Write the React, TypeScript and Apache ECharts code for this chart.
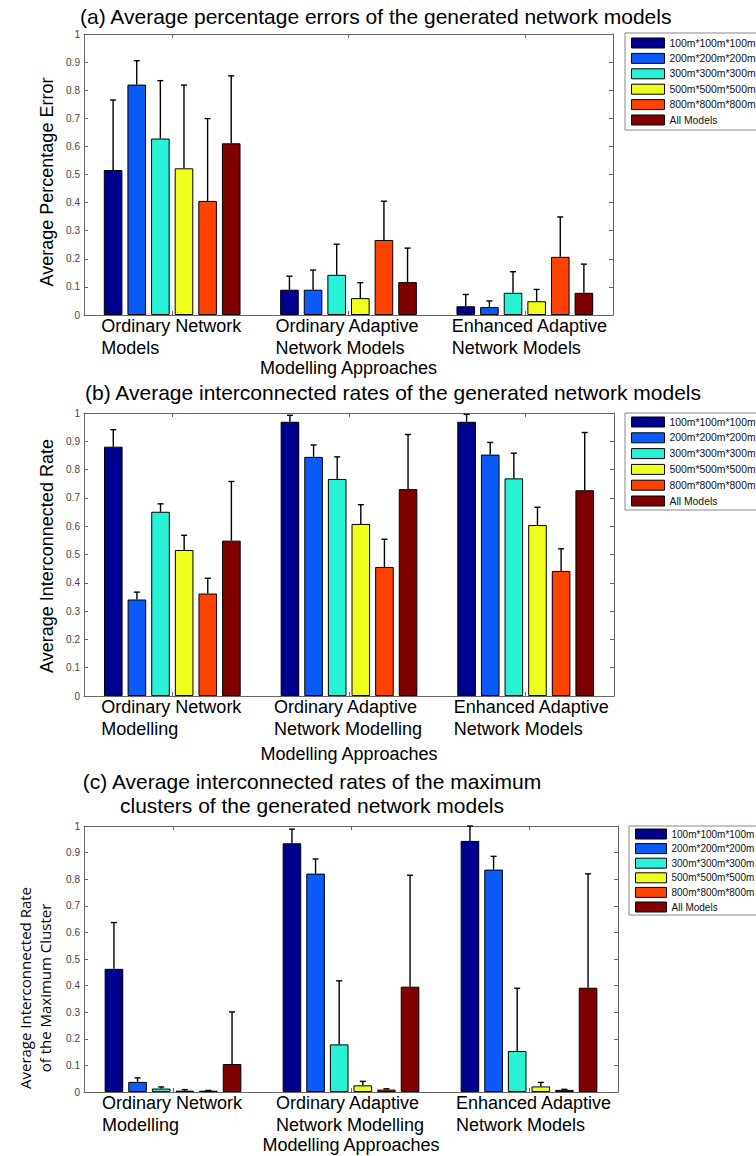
import React, { useEffect, useRef } from "react";
import * as echarts from "echarts";

// Group labels along the bottom axis of each panel
const categoriesA = ["Ordinary Network\nModels", "Ordinary Adaptive\nNetwork Models", "Enhanced Adaptive\nNetwork Models"];
const categoriesB = ["Ordinary Network\nModelling", "Ordinary Adaptive\nNetwork Modelling", "Enhanced Adaptive\nNetwork Models"];
const categoriesC = ["Ordinary Network\nModelling", "Ordinary Adaptive\nNetwork Modelling", "Enhanced Adaptive\nNetwork Models"];

// Model sizes (one bar series each)
const sizeNames = ["100m*100m*100m", "200m*200m*200m", "300m*300m*300m", "500m*500m*500m", "800m*800m*800m", "All Models"];
const sizeColors = ["#00008f", "#0a5af7", "#28f2d6", "#eeff1e", "#ff4200", "#800000"];

const yTicks = [0, 0.1, 0.2, 0.3, 0.4, 0.5, 0.6, 0.7, 0.8, 0.9, 1];

// (a) average percentage error: mean and mean + std per size, per approach
const errorMean = [
  [0.516, 0.09, 0.031],
  [0.82, 0.09, 0.028],
  [0.628, 0.143, 0.079],
  [0.522, 0.06, 0.049],
  [0.406, 0.267, 0.207],
  [0.611, 0.117, 0.079],
];
const errorUpper = [
  [0.765, 0.138, 0.073],
  [0.905, 0.16, 0.05],
  [0.834, 0.252, 0.154],
  [0.818, 0.115, 0.091],
  [0.699, 0.405, 0.349],
  [0.851, 0.238, 0.181],
];

// (b) average interconnected rate
const rateMean = [
  [0.881, 0.969, 0.969],
  [0.341, 0.845, 0.853],
  [0.651, 0.767, 0.769],
  [0.516, 0.608, 0.604],
  [0.362, 0.456, 0.442],
  [0.549, 0.731, 0.727],
];
const rateUpper = [
  [0.941, 0.992, 0.995],
  [0.367, 0.887, 0.896],
  [0.679, 0.845, 0.858],
  [0.568, 0.676, 0.667],
  [0.416, 0.554, 0.52],
  [0.758, 0.924, 0.931],
];

// (c) average interconnected rate of the maximum cluster
const clusterMean = [
  [0.463, 0.935, 0.944],
  [0.038, 0.821, 0.836],
  [0.013, 0.179, 0.154],
  [0.005, 0.025, 0.021],
  [0.005, 0.009, 0.008],
  [0.105, 0.396, 0.392],
];
const clusterUpper = [
  [0.637, 0.988, 1.0],
  [0.053, 0.876, 0.886],
  [0.019, 0.418, 0.39],
  [0.009, 0.04, 0.036],
  [0.006, 0.012, 0.01],
  [0.301, 0.815, 0.82],
];

const FONT = '"Liberation Sans", Arial, Helvetica, sans-serif';
const BAR_W = 18.6;
const BAR_GAP = 0.27;
const PITCH = BAR_W * (1 + BAR_GAP);
const AXIS_COLOR = "#666";

function measure(text: string, font: string): number {
  const ctx = document.createElement("canvas").getContext("2d");
  if (!ctx) return text.length * 9;
  ctx.font = font;
  return ctx.measureText(text).width;
}

type PanelSpec = {
  grid: { left: number; top: number; width: number; height: number };
  categories: string[];
  mean: number[][];
  upper: number[][];
  nameGap: number;
  legend: { left: number; top: number; itemWidth: number; itemGap: number; padTop: number; fontSize: number };
  lastShift: number;
};

function buildPanel(p: number, spec: PanelSpec) {
  const rich: Record<string, any> = {};
  spec.categories.forEach((c, i) => {
    const w = Math.max(...c.split("\n").map((l) => measure(l, `18px ${FONT}`)));
    rich["c" + i] = {
      width: Math.ceil(w) + 1,
      align: "left",
      fontFamily: FONT,
      fontSize: 18,
      lineHeight: 22,
      color: "#000",
      padding: i === spec.categories.length - 1 ? [0, 0, 0, spec.lastShift] : 0,
    };
  });

  const tick = { show: true, inside: true, length: 4, lineStyle: { color: AXIS_COLOR, width: 1 } };
  const line = { show: true, onZero: false, lineStyle: { color: AXIS_COLOR, width: 1 } };

  const xAxes = [
    {
      type: "category",
      gridIndex: p,
      position: "bottom",
      data: spec.categories,
      axisLine: line,
      axisTick: { ...tick, alignWithLabel: true },
      axisLabel: {
        margin: 0,
        interval: 0,
        formatter: (v: string, i: number) =>
          v
            .split("\n")
            .map((l) => `{c${i}|${l}}`)
            .join("\n"),
        rich,
      },
      name: "Modelling Approaches",
      nameLocation: "middle",
      nameGap: spec.nameGap,
      nameTextStyle: { fontFamily: FONT, fontSize: 18, color: "#000", lineHeight: 20 },
    },
    {
      type: "category",
      gridIndex: p,
      position: "top",
      data: spec.categories,
      axisLine: line,
      axisTick: { ...tick, alignWithLabel: true },
      axisLabel: { show: false },
    },
  ];

  const yAxes = [
    {
      type: "value",
      gridIndex: p,
      position: "left",
      min: 0,
      max: 1,
      interval: 0.1,
      axisLine: line,
      axisTick: tick,
      splitLine: { show: false },
      axisLabel: {
        margin: 4,
        fontFamily: FONT,
        fontSize: 10,
        color: "#444",
        formatter: (v: number) => {
          const t = yTicks.find((k) => Math.abs(k - v) < 1e-6);
          return t === undefined ? "" : String(t);
        },
      },
    },
    {
      type: "value",
      gridIndex: p,
      position: "right",
      min: 0,
      max: 1,
      interval: 0.1,
      axisLine: line,
      axisTick: tick,
      splitLine: { show: false },
      axisLabel: { show: false },
    },
  ];

  const bars = sizeNames.map((name, s) => ({
    type: "bar",
    name,
    xAxisIndex: 2 * p,
    yAxisIndex: 2 * p,
    data: spec.mean[s],
    barWidth: BAR_W,
    barGap: `${BAR_GAP * 100}%`,
    itemStyle: { color: sizeColors[s], borderColor: "#000", borderWidth: 1 },
    z: 2,
  }));

  const errItems: number[][] = [];
  sizeNames.forEach((_, s) => {
    spec.mean[s].forEach((m, c) => errItems.push([c, s, m, spec.upper[s][c]]));
  });

  const errors = {
    type: "custom",
    xAxisIndex: 2 * p,
    yAxisIndex: 2 * p,
    silent: true,
    z: 5,
    encode: { x: 0, y: [2, 3] },
    data: errItems,
    renderItem: (_params: any, api: any) => {
      const c = api.value(0);
      const s = api.value(1);
      const lo = api.coord([c, api.value(2)]);
      const hi = api.coord([c, api.value(3)]);
      const x = lo[0] + (s - 2.5) * PITCH;
      const st = { stroke: "#000", lineWidth: 1.4 };
      return {
        type: "group",
        children: [
          { type: "line", shape: { x1: x, y1: lo[1], x2: x, y2: hi[1] }, style: st },
          { type: "line", shape: { x1: x - 3, y1: hi[1], x2: x + 3, y2: hi[1] }, style: st },
        ],
      };
    },
  };

  const legend = {
    left: spec.legend.left,
    top: spec.legend.top,
    orient: "vertical",
    icon: "rect",
    data: sizeNames,
    itemWidth: spec.legend.itemWidth,
    itemHeight: 10,
    itemGap: spec.legend.itemGap,
    itemTextGap: 3,
    padding: [spec.legend.padTop, 6, spec.legend.padTop, 6],
    borderColor: "#888",
    borderWidth: 1,
    backgroundColor: "#fff",
    itemStyle: { borderColor: "#000", borderWidth: 1 },
    textStyle: { fontFamily: FONT, fontSize: spec.legend.fontSize, lineHeight: 11, color: "#111" },
  };

  return {
    grid: { ...spec.grid, containLabel: false },
    xAxes,
    yAxes,
    series: [...bars, errors],
    legend,
  };
}

const panels: PanelSpec[] = [
  {
    grid: { left: 84, top: 34, width: 529, height: 281 },
    categories: categoriesA,
    mean: errorMean,
    upper: errorUpper,
    nameGap: 43,
    legend: { left: 625, top: 33, itemWidth: 33, itemGap: 4.4, padTop: 4.5, fontSize: 10.4 },
    lastShift: 12,
  },
  {
    grid: { left: 84, top: 413, width: 530, height: 283 },
    categories: categoriesB,
    mean: rateMean,
    upper: rateUpper,
    nameGap: 48,
    legend: { left: 625, top: 413, itemWidth: 33, itemGap: 4.8, padTop: 3.5, fontSize: 10.4 },
    lastShift: 14,
  },
  {
    grid: { left: 84, top: 826, width: 534, height: 267 },
    categories: categoriesC,
    mean: clusterMean,
    upper: clusterUpper,
    nameGap: 43,
    legend: { left: 629, top: 826, itemWidth: 31, itemGap: 3.6, padTop: 2.5, fontSize: 10 },
    lastShift: 12,
  },
];

function textEl(text: string, x: number, y: number, opts: any = {}) {
  return {
    type: "text",
    x,
    y,
    rotation: opts.rotation || 0,
    silent: true,
    style: {
      text,
      fill: "#000",
      fontFamily: opts.fontFamily || FONT,
      fontSize: opts.fontSize || 18,
      lineHeight: opts.lineHeight,
      align: opts.align || "center",
      verticalAlign: "middle",
    },
  };
}

export default function App() {
  const ref = useRef<HTMLDivElement>(null);

  useEffect(() => {
    document.body.style.margin = "0";
    if (!ref.current) return;
    const chart = echarts.init(ref.current, undefined, { renderer: "svg" });

    const built = panels.map((s, i) => buildPanel(i, s));

    chart.setOption({
      animation: false,
      backgroundColor: "#fff",
      grid: built.map((b) => b.grid),
      xAxis: built.flatMap((b) => b.xAxes),
      yAxis: built.flatMap((b) => b.yAxes),
      legend: built.map((b) => b.legend),
      series: built.flatMap((b) => b.series),
      graphic: [
        textEl("(a) Average percentage errors of the generated network models", 80, 16, { fontSize: 21, align: "left" }),
        textEl("(b) Average interconnected rates of the generated network models", 85, 392, { fontSize: 21, align: "left" }),
        textEl("(c) Average interconnected rates of the maximum\nclusters of the generated network models", 312, 793, {
          fontSize: 21,
          lineHeight: 24,
        }),
        textEl("Average Percentage Error", 47, 182, { rotation: Math.PI / 2 }),
        textEl("Average Interconnected Rate", 47, 556, { rotation: Math.PI / 2 }),
        textEl("Average Interconnected Rate\nof the Maximum Cluster", 35, 988, {
          rotation: Math.PI / 2,
          fontFamily: '"Open Sans", sans-serif',
          fontSize: 15,
          lineHeight: 20,
        }),
      ],
    });

    return () => chart.dispose();
  }, []);

  return <div ref={ref} style={{ width: 756, height: 1156 }} />;
}
